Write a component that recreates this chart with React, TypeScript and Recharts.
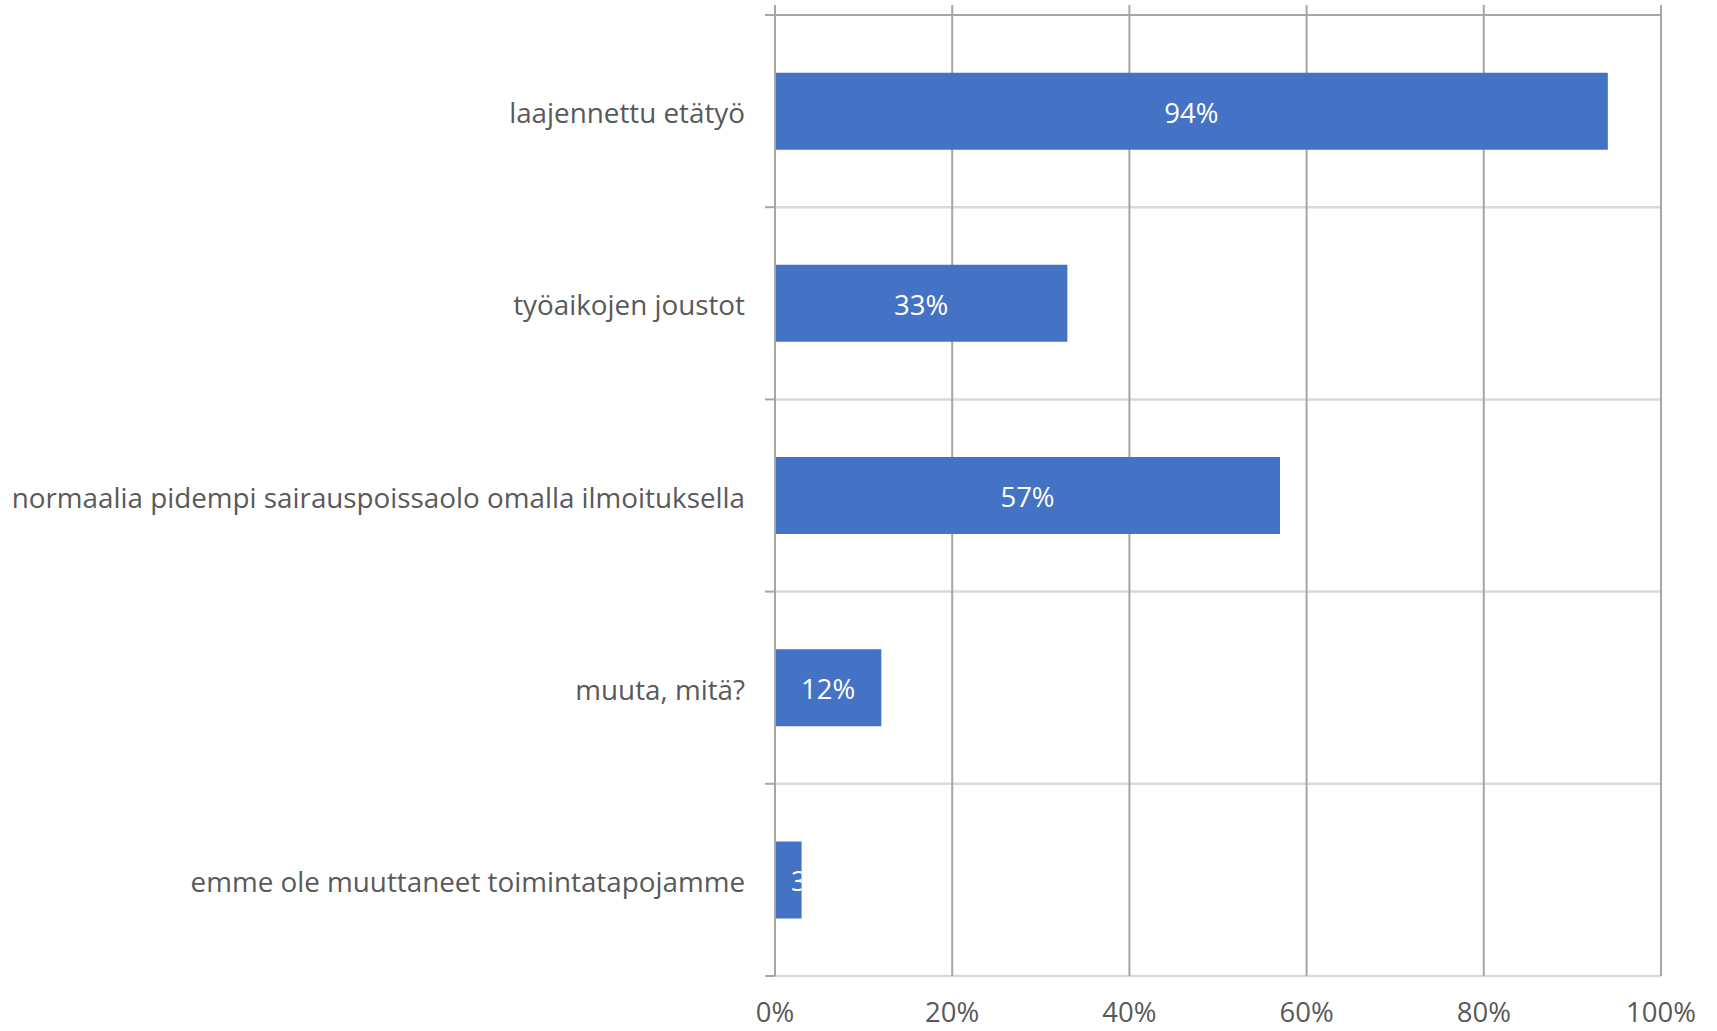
import React from "react";
import { BarChart, Bar, XAxis, YAxis, CartesianGrid, LabelList } from "recharts";

const categories = [
  "laajennettu etätyö",
  "työaikojen joustot",
  "normaalia pidempi sairauspoissaolo omalla ilmoituksella",
  "muuta, mitä?",
  "emme ole muuttaneet toimintatapojamme",
];
const values = [94, 33, 57, 12, 3];
const xTicks = [0, 20, 40, 60, 80, 100];

const data = categories.map((name, i) => ({ name, value: values[i] }));

const FONT = "'Open Sans', sans-serif";
const TEXT = "#595959";
const BAR = "#4472C4";
const DARK_GRID = "#a6a6a6";
const LIGHT_GRID = "#d9d9d9";

const YTick = (props: any) => {
  const { x, y, payload } = props;
  return (
    <text x={x} y={y + 1} textAnchor="end" dominantBaseline="central" fill={TEXT} fontSize={27.8} fontFamily={FONT}>
      {payload.value}
    </text>
  );
};

const XTick = (props: any) => {
  const { x, y, payload } = props;
  return (
    <text x={x} y={y} textAnchor="middle" dominantBaseline="central" fill={TEXT} fontSize={27.5} fontFamily={FONT}>
      {payload.value}%
    </text>
  );
};

const BarLabel = (props: any) => {
  const { x, y, width, height, value, index } = props;
  const narrow = width < 45;
  const clipId = `clip-lbl-${index}`;
  return (
    <g>
      <defs>
        <clipPath id={clipId}>
          <rect x={x} y={y} width={width} height={height} />
        </clipPath>
      </defs>
      <text
        x={narrow ? x + 16 : x + width / 2}
        y={y + height / 2 + 1}
        textAnchor={narrow ? "start" : "middle"}
        dominantBaseline="central"
        fill="#ffffff"
        fontSize={27.5}
        fontFamily={FONT}
        clipPath={`url(#${clipId})`}
      >
        {value}%
      </text>
    </g>
  );
};

const horizontalGen = (args: any) => {
  const off = args.offset;
  const n = categories.length;
  return Array.from({ length: n + 1 }, (_, i) => off.top + (i * off.height) / n);
};

const HLine = (props: any) => {
  const { x1, x2, y1, index } = props;
  const isTop = index === 0;
  return (
    <g key={`h-${index}`}>
      <line x1={x1} x2={x2} y1={y1} y2={y1} stroke={isTop ? DARK_GRID : LIGHT_GRID} strokeWidth={isTop ? 2 : 2.5} />
      <line x1={x1 - 10} x2={x1} y1={y1} y2={y1} stroke={DARK_GRID} strokeWidth={2} />
    </g>
  );
};

const VLine = (props: any) => {
  const { x1, y1, y2, index } = props;
  return <line key={`v-${index}`} x1={x1} x2={x1} y1={y1 - 10} y2={y2} stroke={DARK_GRID} strokeWidth={2} />;
};

export default function App() {
  return (
    <div style={{ position: "absolute", left: 0, top: 0, width: 1717, height: 1031, background: "#fff" }}>
      <BarChart
        width={1717}
        height={1031}
        data={data}
        layout="vertical"
        margin={{ top: 15, right: 56, bottom: 0, left: 0 }}
        barCategoryGap="30%"
      >
        <CartesianGrid
          horizontalCoordinatesGenerator={horizontalGen}
          horizontal={HLine as any}
          vertical={VLine as any}
        />
        <XAxis
          type="number"
          domain={[0, 100]}
          ticks={xTicks}
          interval={0}
          height={55}
          axisLine={false}
          tickLine={false}
          tickSize={0}
          tickMargin={35}
          tick={<XTick />}
        />
        <YAxis
          type="category"
          dataKey="name"
          width={775}
          axisLine={{ stroke: DARK_GRID, strokeWidth: 2 }}
          tickLine={false}
          tickSize={0}
          tickMargin={30}
          tick={<YTick />}
          interval={0}
        />
        <Bar dataKey="value" fill={BAR} isAnimationActive={false}>
          <LabelList dataKey="value" content={<BarLabel />} />
        </Bar>
      </BarChart>
    </div>
  );
}
